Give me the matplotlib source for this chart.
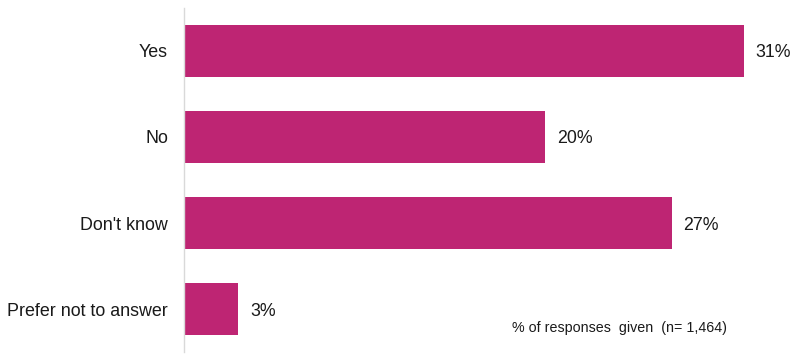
import matplotlib.pyplot as plt

categories = ["Yes", "No", "Don't know", "Prefer not to answer"]
values = [31, 20, 27, 3]
value_labels = ["31%", "20%", "27%", "3%"]
note = "% of responses  given  (n= 1,464)"

plt.rcParams['font.family'] = ['Liberation Sans', 'DejaVu Sans']

fig = plt.figure(figsize=(8, 3.6), dpi=100)
ax = fig.add_axes([0.23, 0.022, 0.7675, 0.956])

ypos = list(range(len(categories)))
ax.barh(ypos, values, height=0.6, color='#BE2573')
ax.set_ylim(len(categories) - 0.5, -0.5)
ax.set_xlim(0, 34)

for y, v, lab in zip(ypos, values, value_labels):
    ax.text(v + 0.65, y, lab, va='center_baseline', ha='left', fontsize=12.8, color='#1a1a1a')

ax.set_yticks(ypos)
ax.set_yticklabels(categories, fontsize=12.9, color='#1a1a1a')
ax.tick_params(axis='y', length=0, pad=11.5)
ax.set_xticks([])
for side in ['top', 'right', 'bottom']:
    ax.spines[side].set_visible(False)
ax.spines['left'].set_color('#D9D9D9')
ax.spines['left'].set_linewidth(1)

fig.text(727 / 800, 1 - 328 / 360, note, ha='right', va='center', fontsize=10.3, color='#1a1a1a')

fig.savefig('out.png', dpi=100)
